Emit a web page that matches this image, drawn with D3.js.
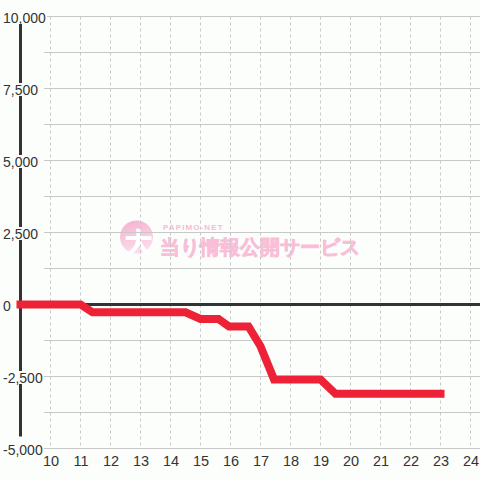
<!DOCTYPE html>
<html><head><meta charset="utf-8">
<script src="https://cdn.jsdelivr.net/npm/d3@7"></script>
<style>
html,body{margin:0;padding:0;background:#fcfefc;}
svg{display:block;}
text{font-family:"Liberation Sans",Arial,sans-serif;}
</style></head>
<body>
<svg id="c" width="480" height="480"></svg>
<script>
// data
const hours  = [9, 11, 11.4, 14.5, 15, 15.6, 15.95, 16.6, 17, 17.45, 19, 19.5, 23];
const values = [0, 0, -270, -270, -500, -500, -760, -760, -1450, -2600, -2600, -3100, -3100];
const xTicks = [10,11,12,13,14,15,16,17,18,19,20,21,22,23,24];
const yTicks = [10000, 7500, 5000, 2500, 0, -2500, -5000];
const yTickLabels = ["10,000", "7,500", "5,000", "2,500", "0", "-2,500", "-5,000"];
const yMinor = [8750, 6250, 3750, 1250, -1250, -3750];

const W = 480, H = 480, BG = "#fcfefc";
const svg = d3.select("#c");
svg.append("rect").attr("width", W).attr("height", H).attr("fill", BG);

const x = d3.scaleLinear().domain([9, 24]).range([20.5, 470.5]);
const y = d3.scaleLinear().domain([-5000, 10000]).range([448.5, 16.5]);

// watermark
const defs = svg.append("defs");
const g1 = defs.append("linearGradient").attr("id","wg").attr("x1",0).attr("y1",0).attr("x2",0.3).attr("y2",1);
g1.append("stop").attr("offset","0%").attr("stop-color","#f6b0cf");
g1.append("stop").attr("offset","100%").attr("stop-color","#fcdbea");
const wm = svg.append("g");
wm.append("circle").attr("cx",136.5).attr("cy",237).attr("r",16.5).attr("fill","url(#wg)");
wm.append("text").attr("x",138).attr("y",252).attr("text-anchor","middle")
  .attr("font-family","'Noto Sans CJK JP'").attr("font-weight","bold").attr("font-size",27)
  .attr("fill","#ffffff").attr("stroke","#ffffff").attr("stroke-width",1).text("大");
wm.append("text").attr("x",163).attr("y",230)
  .attr("font-family","'DejaVu Sans'").attr("font-weight","bold").attr("font-size",8)
  .attr("letter-spacing",1.1).attr("fill","#f8bad6").text("PAPIMO-NET");
wm.append("text").attr("x",160).attr("y",253.5)
  .attr("font-family","'Noto Sans CJK JP'").attr("font-weight","bold").attr("font-size",20)
  .attr("fill","#f9bfd9").attr("stroke","#f9bfd9").attr("stroke-width",0.8).text("当り情報公開サービス");

// horizontal grid
const grid = svg.append("g");
grid.append("g").selectAll("line").data(yTicks.concat(yMinor)).join("line")
  .attr("x1", 44).attr("x2", W).attr("y1", d => y(d)).attr("y2", d => y(d))
  .attr("stroke", "#c8c8c8").attr("stroke-width", 1);
// vertical dashed grid
grid.append("g").selectAll("line").data(xTicks).join("line")
  .attr("x1", d => x(d)).attr("x2", d => x(d)).attr("y1", y(10000)).attr("y2", y(-5000))
  .attr("stroke", "#c8c8c8").attr("stroke-width", 1).attr("stroke-dasharray", "3,3");

// zero line
svg.append("line").attr("x1", x(9)).attr("x2", W).attr("y1", y(0)).attr("y2", y(0))
  .attr("stroke", "#333333").attr("stroke-width", 3);
// y axis bar
svg.append("line").attr("x1", x(9)).attr("x2", x(9)).attr("y1", y(10000)).attr("y2", y(-4580))
  .attr("stroke", "#333333").attr("stroke-width", 3);

// data line
const pts = hours.map((h, i) => [h, values[i]]);
svg.append("path").datum(pts)
  .attr("d", d3.line().x(d => x(d[0])).y(d => y(d[1])))
  .attr("fill", "none").attr("stroke", "#ee2236").attr("stroke-width", 8)
  .attr("stroke-linecap", "square").attr("stroke-linejoin", "miter");

// y labels with background
const yl = svg.append("g");
yTicks.forEach((v, i) => {
  const g = yl.append("g");
  const r = g.append("rect").attr("fill", BG);
  const t = g.append("text").attr("x", 3).attr("y", y(v) + 6)
    .attr("font-size", 14).attr("fill", "#333333").text(yTickLabels[i]);
  const bb = t.node().getBBox();
  r.attr("x", bb.x - 1).attr("width", bb.width + 2).attr("y", y(v) - 5.5).attr("height", 13);
});

// x labels
svg.append("g").selectAll("text").data(xTicks).join("text")
  .attr("x", d => x(d) + 0.5).attr("y", 466).attr("text-anchor", "middle")
  .attr("font-size", 14.5).attr("fill", "#333333").text(d => d);
</script>
</body></html>
